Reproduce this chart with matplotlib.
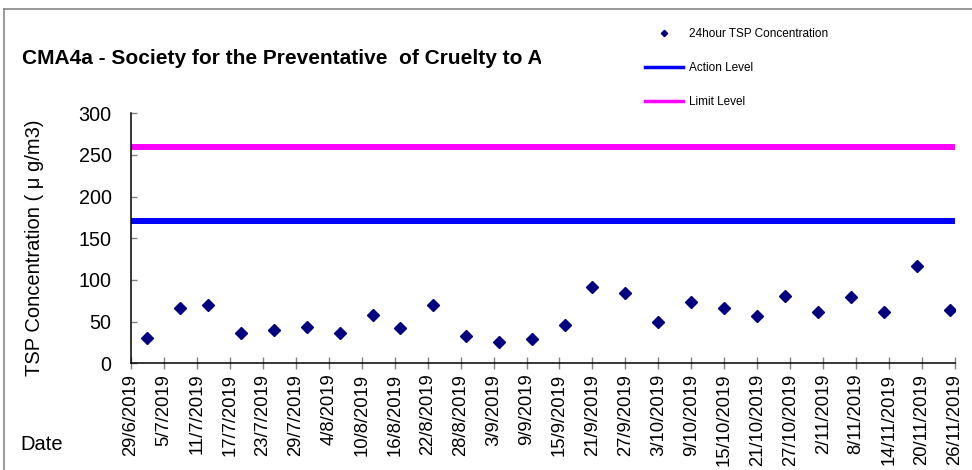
import datetime as dt
import matplotlib
matplotlib.use("Agg")
import matplotlib.pyplot as plt
from matplotlib.lines import Line2D

plt.rcParams['font.family'] = ['Liberation Sans', 'DejaVu Sans']

# ---------------- data ----------------
sample_dates = ["2/7/2019", "8/7/2019", "13/7/2019", "19/7/2019", "25/7/2019",
                "31/7/2019", "6/8/2019", "12/8/2019", "17/8/2019", "23/8/2019",
                "29/8/2019", "4/9/2019", "10/9/2019", "16/9/2019", "21/9/2019",
                "27/9/2019", "3/10/2019", "9/10/2019", "15/10/2019", "21/10/2019",
                "26/10/2019", "1/11/2019", "7/11/2019", "13/11/2019", "19/11/2019",
                "25/11/2019"]
tsp_values = [30, 66, 70, 36, 40, 43, 36, 58, 42, 70,
              33, 26, 29, 46, 91, 84, 49, 73, 66, 57,
              81, 61, 79, 61, 117, 64]
action_level = 171
limit_level = 260
tick_labels = ["29/6/2019", "5/7/2019", "11/7/2019", "17/7/2019", "23/7/2019",
               "29/7/2019", "4/8/2019", "10/8/2019", "16/8/2019", "22/8/2019",
               "28/8/2019", "3/9/2019", "9/9/2019", "15/9/2019", "21/9/2019",
               "27/9/2019", "3/10/2019", "9/10/2019", "15/10/2019", "21/10/2019",
               "27/10/2019", "2/11/2019", "8/11/2019", "14/11/2019", "20/11/2019",
               "26/11/2019"]
y_ticks = [0, 50, 100, 150, 200, 250, 300]

def parse(s):
    d, m, y = (int(v) for v in s.split("/"))
    return dt.datetime(y, m, d)

x_dates = [parse(s) for s in sample_dates]
tick_pos = [parse(s) for s in tick_labels]

# ---------------- figure ----------------
W, H = 972, 470
fig = plt.figure(figsize=(W / 100, H / 100), dpi=100)

ax = fig.add_axes([131 / W, 1 - 363.3 / H, (955 - 131) / W, (363.3 - 113.3) / H])

navy = "#000080"
ax.plot(x_dates, tsp_values, linestyle="none", marker="D", markersize=6.2,
        color=navy, label="24hour TSP Concentration", zorder=3)
ax.axhline(action_level, color="#0000FF", linewidth=4.3, label="Action Level")
ax.axhline(limit_level, color="#FF00FF", linewidth=4.3, label="Limit Level")

ax.set_xlim(tick_pos[0], tick_pos[-1])
ax.set_ylim(0, 300)
ax.set_yticks(y_ticks)
ax.set_xticks(tick_pos)
ax.set_xticklabels(tick_labels, rotation=90, fontsize=13.3)
ax.tick_params(axis="y", direction="in", length=4.5, width=1, color="#808080",
               labelsize=14.2, pad=14)
ax.tick_params(axis="x", direction="inout", length=9, width=1, color="#808080",
               pad=3)
for s in ("top", "right"):
    ax.spines[s].set_visible(False)
for s in ("left", "bottom"):
    ax.spines[s].set_linewidth(1.1)
    ax.spines[s].set_color("black")

# y label & "Date"
fig.text(35 / W, 1 - 248 / H, "TSP Concentration ( μ g/m3)", rotation=90,
         ha="center", va="center", fontsize=14.5)
fig.text(20 / W, 1 - 444 / H, "Date", ha="left", va="center", fontsize=14.5)

# clipped title
ax_t = fig.add_axes([0, 0.75, 541 / W, 0.25])
ax_t.set_axis_off()
t = ax_t.text(21.5 / W, 1 - 64.3 / H,
              "CMA4a - Society for the Preventative  of Cruelty to Animals",
              transform=fig.transFigure, fontsize=15, fontweight="bold",
              ha="left", va="baseline", clip_on=True)
t.set_clip_box(ax_t.bbox)

# legend
handles = [Line2D([], [], linestyle="none", marker="D", markersize=3.2, color=navy),
           Line2D([], [], color="#0000FF", linewidth=2.5),
           Line2D([], [], color="#FF00FF", linewidth=2.5)]
labels = ["24hour TSP Concentration", "Action Level", "Limit Level"]
fig.legend(handles, labels, loc="upper left", bbox_to_anchor=(645 / W, 1 - 28 / H),
           frameon=False, fontsize=8.5, handlelength=3.2, handletextpad=0.5,
           labelspacing=1.85, borderpad=0, borderaxespad=0)

# chart area border (top and left)
fig.add_artist(Line2D([4 / W, 1], [1 - 9 / H, 1 - 9 / H], transform=fig.transFigure,
                      color="#888888", linewidth=1.2))
fig.add_artist(Line2D([4 / W, 4 / W], [0, 1 - 9 / H], transform=fig.transFigure,
                      color="#888888", linewidth=1.2))

fig.savefig("out.png", dpi=100)
